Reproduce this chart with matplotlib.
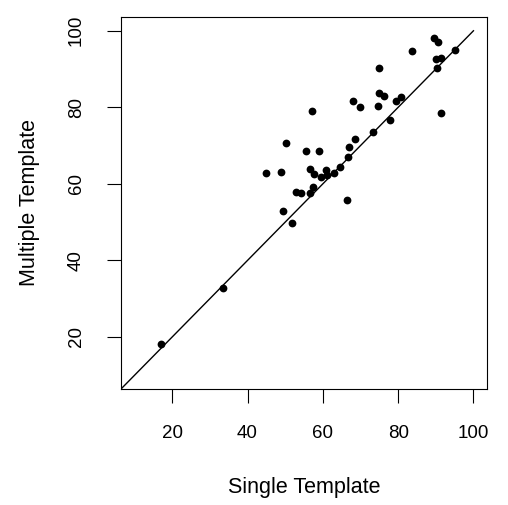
import matplotlib
matplotlib.use("Agg")
import matplotlib.pyplot as plt

plt.rcParams['font.family'] = ['Liberation Sans', 'DejaVu Sans']

# single vs multiple template scores
single = [17.1, 33.5, 89.5, 90.7, 83.7, 95.0, 90.1, 91.4, 90.3, 74.8, 74.8, 76.2,
          79.5, 80.7, 68.0, 69.9, 74.6, 91.3, 57.0, 77.8, 73.2, 68.6, 50.2, 66.9,
          55.4, 58.9, 66.8, 64.6, 56.6, 57.6, 60.8, 59.5, 61.1, 62.9, 44.9, 48.8,
          53.0, 54.1, 57.3, 56.7, 66.4, 49.5, 51.7]
multiple = [18.1, 32.7, 98.0, 97.1, 94.6, 95.0, 92.5, 92.9, 90.3, 90.4, 83.8, 82.9,
            81.6, 82.7, 81.7, 80.0, 80.3, 78.6, 79.1, 76.6, 73.6, 71.7, 70.8, 69.7,
            68.5, 68.7, 67.1, 64.4, 63.8, 62.6, 63.6, 61.8, 62.4, 62.8, 62.8, 63.1,
            57.8, 57.5, 59.1, 57.6, 55.8, 53.0, 49.9]
ticks = [20, 40, 60, 80, 100]

fig = plt.figure(figsize=(5.08, 5.05), dpi=100)
ax = fig.add_axes([121/508, 1-389/505, 366/508, 372/505])

ax.plot(single, multiple, 'o', color='black', markersize=5.6, markeredgewidth=0)
ax.plot([0, 100], [0, 100], color='black', linewidth=1.0)

ax.set_xlim(6.4, 103.6)
ax.set_ylim(6.4, 103.6)
ax.set_xticks(ticks)
ax.set_yticks(ticks)
ax.tick_params(direction='out', length=10, width=0.8, labelsize=13.5, pad=16)
for lab in ax.get_yticklabels():
    lab.set_rotation(90)
    lab.set_va('center')
for s in ax.spines.values():
    s.set_linewidth(0.8)

ax.set_xlabel("Single Template", fontsize=15.5, va='center')
ax.set_ylabel("Multiple Template", fontsize=15.5, va='center')
ax.xaxis.set_label_coords(0.5, -0.266)
ax.yaxis.set_label_coords(-0.249, 0.5)

fig.savefig("out.png", dpi=100)
